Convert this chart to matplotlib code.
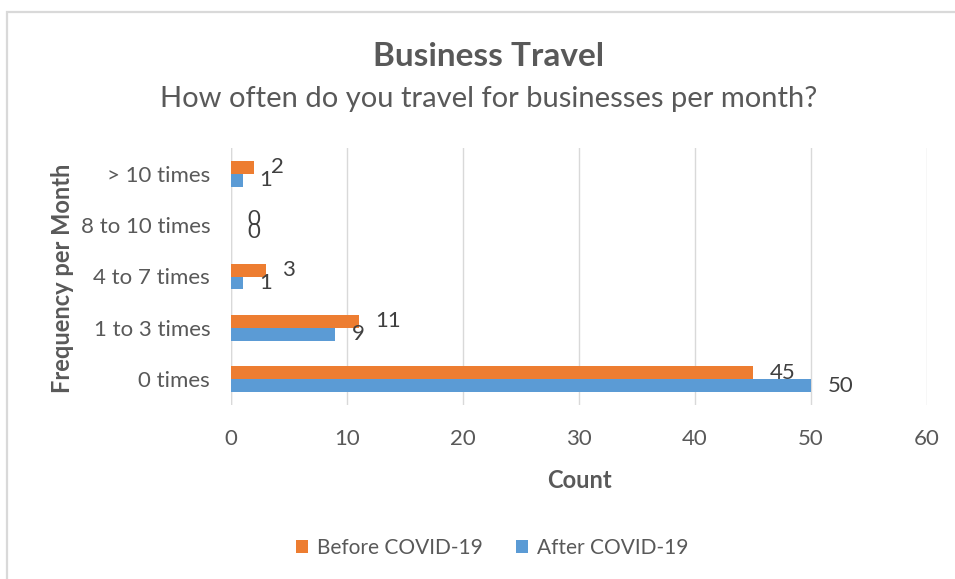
import numpy as np
import matplotlib.pyplot as plt
from matplotlib.patches import Rectangle

# Survey answers: business trips per month
categories = ['0 times', '1 to 3 times', '4 to 7 times', '8 to 10 times', '> 10 times']
before_covid = [45, 11, 3, 0, 2]
after_covid = [50, 9, 1, 0, 1]

ORANGE = '#ED7D31'
BLUE = '#5B9BD5'
TEXT = '#595959'
GRID = '#D9D9D9'

plt.rcParams['font.family'] = ['Lato', 'DejaVu Sans']

W, H = 955, 579
fig = plt.figure(figsize=(W / 100, H / 100), dpi=100)

# light frame around the chart area (only top and left edges show)
fig.patches.append(Rectangle((7 / W, -0.2), 1.2, 1.2 - 12 / H, transform=fig.transFigure,
                             fill=False, edgecolor='#D9D9D9', linewidth=1.6))

ax = fig.add_axes([231 / W, 1 - 405 / H, (927 - 231) / W, (405 - 148) / H])

y = np.arange(len(categories))
h = 0.25
b1 = ax.barh(y + h / 2, before_covid, height=h, color=ORANGE, label='Before COVID-19', zorder=3)
b2 = ax.barh(y - h / 2, after_covid, height=h, color=BLUE, label='After COVID-19', zorder=3)

ax.bar_label(b1, padding=12, color='#404040', fontsize=16)
ax.bar_label(b2, padding=12, color='#404040', fontsize=16)

ax.set_xlim(0, 60)
ax.set_ylim(-0.5, 4.5)
ax.set_xticks(range(0, 61, 10))
ax.set_yticks(y)
ax.set_yticklabels(categories)
ax.grid(axis='x', color=GRID, linewidth=1, zorder=0)
ax.axvline(0, color=GRID, linewidth=1, zorder=1)
for s in ax.spines.values():
    s.set_visible(False)
ax.tick_params(length=0, colors=TEXT, labelsize=16)
ax.tick_params(axis='x', pad=17)
ax.tick_params(axis='y', pad=15)

ax.set_xlabel('Count', fontsize=17, fontweight='bold', color=TEXT, labelpad=15)
fig.text(62 / W, 1 - 278 / H, 'Frequency per Month', rotation=90, fontsize=17,
         fontweight='bold', color=TEXT, ha='center', va='center')

fig.text(489 / W, 1 - 56 / H, 'Business Travel', fontsize=24, fontweight='bold',
         color=TEXT, ha='center', va='center')
fig.text(489 / W, 1 - 99 / H, 'How often do you travel for businesses per month?',
         fontsize=21, color=TEXT, ha='center', va='center')

fig.legend(handles=[b1, b2], loc='center', bbox_to_anchor=(492 / W, 1 - 548 / H),
           ncol=2, frameon=False, fontsize=15, labelcolor=TEXT,
           handlelength=0.6, handleheight=0.6, handletextpad=0.4, columnspacing=1.6)

fig.savefig('out.png', dpi=100)
